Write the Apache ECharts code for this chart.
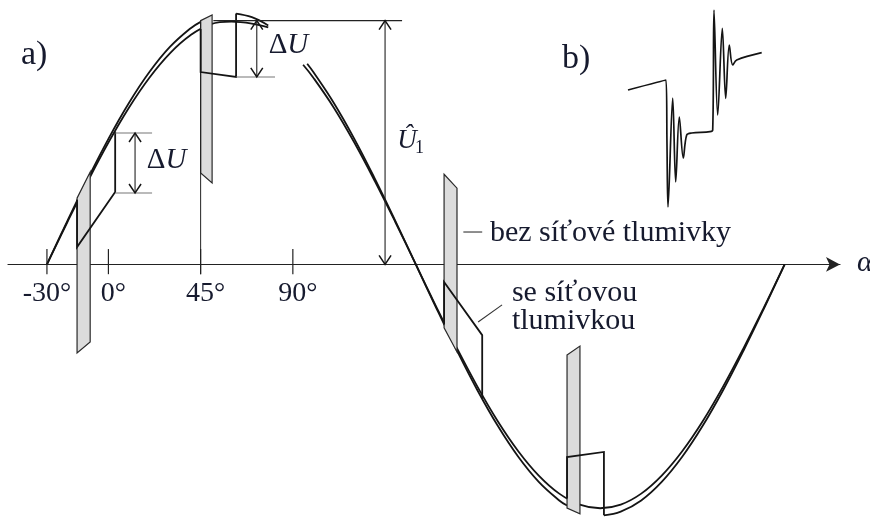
<!DOCTYPE html>
<html>
<head>
<meta charset="utf-8">
<script src="https://cdn.jsdelivr.net/npm/echarts@6/dist/echarts.min.js"></script>
<style>
  html, body { margin: 0; padding: 0; background: #ffffff; }
  #chart { width: 870px; height: 518px; }
</style>
</head>
<body>
<div id="chart"></div>
<script>
// Angle axis in degrees, tick positions and their labels
const angleTicks = [-30, 0, 45, 90];
const tickLabels = ['-30°', '0°', '45°', '90°'];

// Line voltage (% of Û1) without line reactor – outer curve, drawn in pieces
const bareSeg1 = [[-30, 0], [-20, 17.9], [-10, 35.2], [0, 51.5], [10, 66.2], [20, 78.9], [30, 89.2], [40, 96.8], [45, 99.5]];
const bareSeg2 = [[62.3, 102.9], [70, 101.4], [78, 98.0]];
const bareSeg3 = [[97, 82.3], [100, 78.9], [110, 66.2], [120, 51.5], [130, 35.2], [140, 17.9], [150, 0], [160, -17.9],
                  [170, -35.2], [180, -51.5], [190, -66.2], [200, -78.9], [210, -89.2], [220, -96.8], [223.8, -98.9]];
const bareSeg4 = [[241.8, -102.9], [250, -101.4], [260, -96.8], [270, -89.2], [280, -78.9], [290, -66.2], [300, -51.5],
                  [310, -35.2], [320, -17.9], [330, 0]];

// Line voltage (% of Û1) with line reactor – inner curve
const chokeSeg1 = [[-30, 0], [-20, 17.4], [-10, 34.2], [0, 50], [10, 64.3], [20, 76.6], [30, 86.6], [40, 94], [50, 98.6],
                   [60, 99.6], [70, 98.8], [78, 97.2]];
const chokeSeg2 = [[95, 81.9], [100, 76.6], [110, 64.3], [120, 50], [130, 34.2], [140, 17.4], [150, 0], [160, -17.4],
                   [170, -34.2], [180, -50], [190, -64.3], [200, -76.6], [210, -86.6], [220, -94], [230, -98.5],
                   [240, -100], [250, -98.5], [260, -94], [270, -86.6], [280, -76.6], [290, -64.3], [300, -50],
                   [310, -34.2], [320, -17.4], [330, 0]];

// Commutation notches without reactor (grey bands), corner points [angle, %]
const notchBare = [
  [[-15.3, 27.2], [-8.9, 37.9], [-8.9, -31.8], [-15.3, -36.3]],
  [[45, 100], [50.6, 102.3], [50.6, 33.4], [45, 37.5]],
  [[163.8, 37.0], [170.1, 31.3], [170.1, -35.9], [163.8, -26.0]],
  [[223.8, -37.1], [230.1, -33.5], [230.1, -102.3], [223.8, -99.9]]
];

// Commutation notches with reactor (wider, shallower)
const notchChoke = [
  [[-15.3, 26.5], [-15.3, 7.1], [3.3, 29.7], [3.3, 54.5]],
  [[45, 96.6], [45, 78.9], [62.3, 76.9], [62.3, 102.9]],
  [[163.8, -24.6], [163.8, -7.2], [182.4, -29.0], [182.4, -55.0]],
  [[223.8, -96.0], [223.8, -79.0], [241.8, -76.9], [241.8, -102.9]]
];

// Dimensions: ΔU at the first notch [angle of arrow, low, high, extension from, extension to]
const deltaU1 = [13.0, 29.3, 53.9, 3.3, 21.3];
// ΔU at the second notch [angle of arrow, low, high, extension from, extension to]
const deltaU2 = [72.4, 76.9, 100, 62.3, 81.3];
// Peak value Û1 [angle of arrow, reference line from, reference line to, level]
const peakU1 = [135.0, 51.2, 143.3, 100];

// Ringing of the supply voltage during commutation (panel b), [time, level]
const ringing = [[8, 130], [46, 140], [47, 75], [48, 13], [52.7, 122], [55.7, 38], [59.3, 103], [63.3, 62], [66.7, 85],
                 [71.7, 87], [90, 88.3], [92.7, 90], [94, 210], [97.7, 105], [102.3, 191.7], [105.7, 121.7],
                 [109.3, 175], [112.7, 155], [116.7, 160], [141.7, 167.3]];

const serif = '"Liberation Serif", "Times New Roman", serif';
const ink = '#141414';
const textInk = '#161a2e';

const chart = echarts.init(document.getElementById('chart'), null, { renderer: 'canvas' });

function curve(data) {
  return {
    type: 'line', xAxisIndex: 0, yAxisIndex: 0, data: data,
    symbol: 'none', showSymbol: false, smooth: 0.4, silent: true, z: 2,
    lineStyle: { color: ink, width: 1.8 }
  };
}

function renderBands(params, api) {
  return {
    type: 'group',
    children: notchBare.map(function (poly) {
      return {
        type: 'polygon',
        shape: { points: poly.map(function (p) { return api.coord(p); }) },
        style: { fill: '#dcdcdc', stroke: '#2a2a2a', lineWidth: 1.2 }
      };
    })
  };
}

function renderAnnotations(params, api) {
  const c = function (p) { return api.coord(p); };
  const kids = [];
  const seg = function (a, b, stroke, w) {
    kids.push({ type: 'line', shape: { x1: a[0], y1: a[1], x2: b[0], y2: b[1] }, style: { stroke: stroke, lineWidth: w } });
  };
  const poly = function (pts, stroke, w) {
    kids.push({ type: 'polyline', shape: { points: pts }, style: { stroke: stroke, lineWidth: w, fill: null } });
  };
  const head = function (tip, dir) {
    poly([[tip[0] - 6, tip[1] - 9 * dir], [tip[0], tip[1]], [tip[0] + 6, tip[1] - 9 * dir]], ink, 1.5);
  };
  const vArrow = function (x, lo, hi) {
    const top = c([x, hi]), bot = c([x, lo]);
    seg(top, bot, '#222', 1.1);
    head(top, -1);
    head(bot, 1);
  };
  const text = function (str, p, size, opts) {
    opts = opts || {};
    kids.push({
      type: 'text', x: p[0] + (opts.dx || 0), y: p[1] + (opts.dy || 0),
      style: {
        text: str, font: (opts.italic ? 'italic ' : '') + size + 'px ' + serif, fill: textInk,
        align: opts.align || 'left', textAlign: opts.align || 'left',
        verticalAlign: 'middle', textVerticalAlign: 'middle', rich: opts.rich
      }
    });
  };

  // ticks crossing the angle axis
  angleTicks.forEach(function (v) { seg(c([v, 6.3]), c([v, -4]), '#222', 1.2); });
  tickLabels.forEach(function (t, i) {
    const v = angleTicks[i];
    text(t, c([v, 0]), 28, { align: 'center', dx: v < 0 ? 0 : 5, dy: 29 });
  });
  // 45° guide line
  seg(c([45, -4]), c([45, 100]), '#222', 1);

  // notches with line reactor
  notchChoke.forEach(function (n) { poly(n.map(c), ink, 1.8); });

  // ΔU at the first notch
  seg(c([deltaU1[3], deltaU1[2]]), c([deltaU1[4], deltaU1[2]]), '#777', 1.1);
  seg(c([deltaU1[3], deltaU1[1]]), c([deltaU1[4], deltaU1[1]]), '#777', 1.1);
  vArrow(deltaU1[0], deltaU1[1], deltaU1[2]);

  // ΔU at the second notch
  seg(c([deltaU2[3], deltaU2[1]]), c([deltaU2[4], deltaU2[1]]), '#777', 1.1);
  vArrow(deltaU2[0], deltaU2[1], deltaU2[2]);

  // peak value Û1
  seg(c([peakU1[1], peakU1[3]]), c([peakU1[2], peakU1[3]]), '#222', 1.1);
  vArrow(peakU1[0], 0, peakU1[3]);

  // leader lines to the legend texts
  seg(c([173.2, 13.3]), c([182.4, 13.3]), '#333', 1.1);
  seg(c([180.4, -23.6]), c([192.1, -16.6]), '#333', 1.1);

  const deltaRich = {
    d: { font: '29px ' + serif, fill: textInk },
    u: { font: 'italic 29px ' + serif, fill: textInk }
  };
  text('{d|Δ}{u|U}', c([18.7, 42.8]), 29, { rich: deltaRich });
  text('{d|Δ}{u|U}', c([78.2, 90.0]), 29, { rich: deltaRich });
  text('Û', c([141.0, 50.6]), 27, { italic: true });
  text('1', c([149.6, 47.8]), 18);

  text('bez síťové tlumivky', c([186.2, 12.9]), 30);
  text('se síťovou', c([196.9, -11.7]), 30);
  text('tlumivkou', c([196.9, -23.2]), 30);
  text('α', c([365.3, 0.4]), 30, { italic: true });

  return { type: 'group', children: kids };
}

const option = {
  animation: false,
  backgroundColor: '#ffffff',
  grid: [
    { left: 8, right: 30, top: 6, bottom: 0 },
    { left: 620, top: 0, width: 150, height: 220 }
  ],
  xAxis: [
    {
      type: 'value', gridIndex: 0, min: -49, max: 357,
      axisLine: { show: true, onZero: true, symbol: ['none', 'arrow'], symbolSize: [11, 14], lineStyle: { color: '#222', width: 1.2 } },
      axisTick: { show: false }, axisLabel: { show: false }, splitLine: { show: false }
    },
    { type: 'value', gridIndex: 1, min: 0, max: 150, show: false }
  ],
  yAxis: [
    { type: 'value', gridIndex: 0, min: -104, max: 106, show: false, splitLine: { show: false } },
    { type: 'value', gridIndex: 1, min: 0, max: 220, show: false, splitLine: { show: false } }
  ],
  graphic: [
    { type: 'text', left: 21, top: 38, style: { text: 'a)', font: '34px ' + serif, fill: textInk } },
    { type: 'text', left: 562, top: 42, style: { text: 'b)', font: '34px ' + serif, fill: textInk } }
  ],
  series: [
    curve(chokeSeg1), curve(chokeSeg2),
    curve(bareSeg1), curve(bareSeg2), curve(bareSeg3), curve(bareSeg4),
    { type: 'custom', xAxisIndex: 0, yAxisIndex: 0, data: [[0, 0]], renderItem: renderBands, silent: true, z: 3, clip: false },
    { type: 'custom', xAxisIndex: 0, yAxisIndex: 0, data: [[0, 0]], renderItem: renderAnnotations, silent: true, z: 4, clip: false },
    {
      type: 'line', xAxisIndex: 1, yAxisIndex: 1, data: ringing, symbol: 'none', showSymbol: false,
      smooth: 0.35, silent: true, lineStyle: { color: ink, width: 1.7 }
    }
  ]
};

chart.setOption(option);
</script>
</body>
</html>
